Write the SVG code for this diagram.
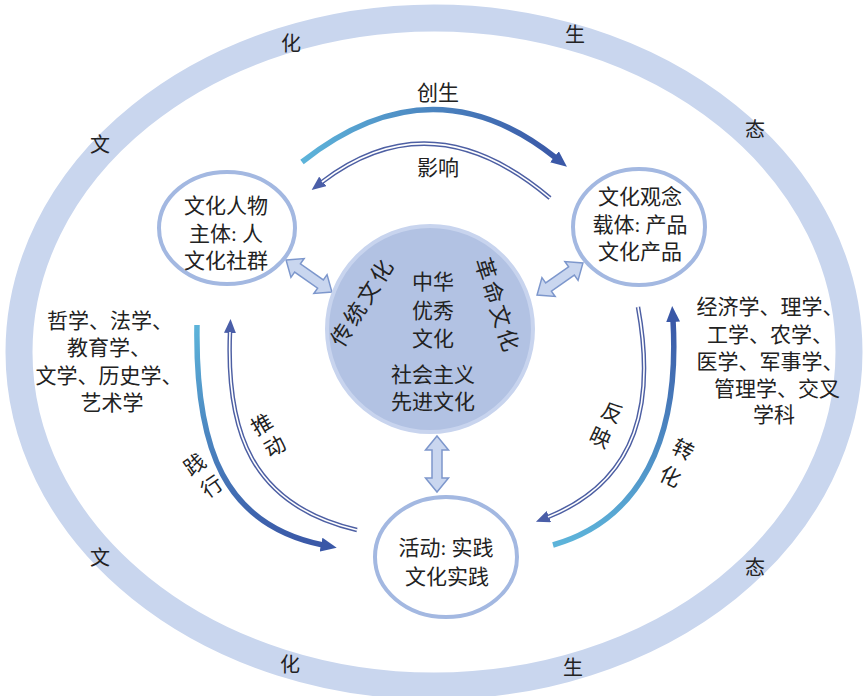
<svg xmlns="http://www.w3.org/2000/svg" width="867" height="696" viewBox="0 0 867 696">
<style>
text{font-family:"Liberation Serif","Noto Sans CJK SC",serif;fill:#222;text-anchor:middle;dominant-baseline:central}
.ring{font-size:20px}
.lbl{font-size:21px}
.node{fill:#fff;stroke:#a3b8e1;stroke-width:4}
.blk{fill:#c9d6ef;stroke:#7d97cc;stroke-width:1.5}
.dbl{fill:none;stroke:#4d5fa3;stroke-width:4.5}
.dblin{fill:none;stroke:#fff;stroke-width:1.6}
.thk{fill:none;stroke-width:5.5}
</style>
<defs>
<linearGradient id="gTop" x1="0" y1="0" x2="1" y2="0"><stop offset="0" stop-color="#5db4da"/><stop offset="1" stop-color="#3a58a7"/></linearGradient>
<linearGradient id="gLeft" x1="0" y1="0" x2="0" y2="1"><stop offset="0" stop-color="#5db4da"/><stop offset="1" stop-color="#3a58a7"/></linearGradient>
<linearGradient id="gRight" x1="0" y1="1" x2="0" y2="0"><stop offset="0" stop-color="#5db4da"/><stop offset="1" stop-color="#3a58a7"/></linearGradient>
<marker id="ahThick" markerUnits="userSpaceOnUse" markerWidth="16" markerHeight="14" viewBox="0 0 16 14" refX="2" refY="7" orient="auto"><path d="M0,0 L16,7 L0,14 z" fill="#3a58a7"/></marker>
<marker id="ahThin" markerUnits="userSpaceOnUse" markerWidth="14" markerHeight="12" viewBox="0 0 14 12" refX="1" refY="6" orient="auto"><path d="M0,0 L14,6 L0,12 z" fill="#4a5ea8"/></marker>
<path id="blkShape" d="M-28,0 L-14,-11.5 L-14,-5 L14,-5 L14,-11.5 L28,0 L14,11.5 L14,5 L-14,5 L-14,11.5 Z"/>
</defs>

<g id="ring">
<ellipse cx="434" cy="352" rx="415" ry="334" fill="none" stroke="#c9d6ee" stroke-width="27"/>
<text class="ring" x="291" y="44">化</text>
<text class="ring" x="575" y="35">生</text>
<text class="ring" x="100" y="145">文</text>
<text class="ring" x="755" y="130">态</text>
<text class="ring" x="100" y="558">文</text>
<text class="ring" x="755" y="568">态</text>
<text class="ring" x="290" y="665">化</text>
<text class="ring" x="573" y="668">生</text>
</g>

<g id="connectors">
<path class="thk" d="M302,162 Q432,59 556,158" stroke="url(#gTop)" marker-end="url(#ahThick)"/>
<path class="dbl" d="M550,198 Q432,98 322,182" marker-end="url(#ahThin)"/>
<path class="dblin" d="M550,198 Q432,98 322,182"/>
<path class="thk" d="M197,325 C195,450 225,525 323,545" stroke="url(#gLeft)" marker-end="url(#ahThick)"/>
<path class="dbl" d="M357,530 C250,505 226,430 230,332" marker-end="url(#ahThin)"/>
<path class="dblin" d="M357,530 C250,505 226,430 230,332"/>
<path class="dbl" d="M638,307 C655,400 640,480 548,517" marker-end="url(#ahThin)"/>
<path class="dblin" d="M638,307 C655,400 640,480 548,517"/>
<path class="thk" d="M553,545 C640,520 680,440 673,320" stroke="url(#gRight)" marker-end="url(#ahThick)"/>
<use href="#blkShape" class="blk" transform="translate(309,276) rotate(35)"/>
<use href="#blkShape" class="blk" transform="translate(560,279) rotate(-35)"/>
<use href="#blkShape" class="blk" transform="translate(437,464) rotate(90)"/>
<text class="lbl" x="438" y="93">创生</text>
<text class="lbl" x="438" y="168">影响</text>
<text class="lbl" transform="translate(262,425) rotate(-30)">推</text>
<text class="lbl" transform="translate(275,447) rotate(-30)">动</text>
<text class="lbl" transform="translate(195,465) rotate(-35)">践</text>
<text class="lbl" transform="translate(212,487) rotate(-35)">行</text>
<text class="lbl" transform="translate(612,413) rotate(25)">反</text>
<text class="lbl" transform="translate(600,438) rotate(25)">映</text>
<text class="lbl" transform="translate(683,450) rotate(26)">转</text>
<text class="lbl" transform="translate(670,477) rotate(26)">化</text>
</g>

<g id="center">
<circle cx="430" cy="329" r="103" fill="#b2c2e3" stroke="#c8d4ee" stroke-width="4"/>
<text class="lbl" x="433" y="282">中华</text>
<text class="lbl" x="433" y="311">优秀</text>
<text class="lbl" x="433" y="339">文化</text>
<text class="lbl" x="433" y="375">社会主义</text>
<text class="lbl" x="433" y="402">先进文化</text>
<text style="font-size:22px;letter-spacing:3px" transform="translate(363,302) rotate(-58)">传统文化</text>
<text style="font-size:22px;letter-spacing:3px" transform="translate(497,306) rotate(72)">革命文化</text>
</g>

<g id="node-subject">
<ellipse class="node" cx="227" cy="228" rx="68" ry="56"/>
<text class="lbl" x="226" y="206">文化人物</text>
<text class="lbl" x="226" y="234">主体: 人</text>
<text class="lbl" x="226" y="261">文化社群</text>
</g>

<g id="node-carrier">
<ellipse class="node" cx="639" cy="227" rx="66" ry="58"/>
<text class="lbl" x="640" y="197">文化观念</text>
<text class="lbl" x="640" y="225">载体: 产品</text>
<text class="lbl" x="640" y="252">文化产品</text>
</g>

<g id="node-activity">
<ellipse class="node" cx="446" cy="557" rx="71" ry="60"/>
<text class="lbl" x="446" y="548">活动: 实践</text>
<text class="lbl" x="447" y="577">文化实践</text>
</g>

<g id="left-disciplines">
<text class="lbl" x="110" y="321">哲学、法学、</text>
<text class="lbl" x="109" y="348">教育学、</text>
<text class="lbl" x="109" y="376">文学、历史学、</text>
<text class="lbl" x="112" y="403">艺术学</text>
</g>

<g id="right-disciplines">
<text class="lbl" x="770" y="307">经济学、理学、</text>
<text class="lbl" x="770" y="335">工学、农学、</text>
<text class="lbl" x="770" y="362">医学、军事学、</text>
<text class="lbl" x="777" y="389">管理学、交叉</text>
<text class="lbl" x="774" y="415">学科</text>
</g>
</svg>
